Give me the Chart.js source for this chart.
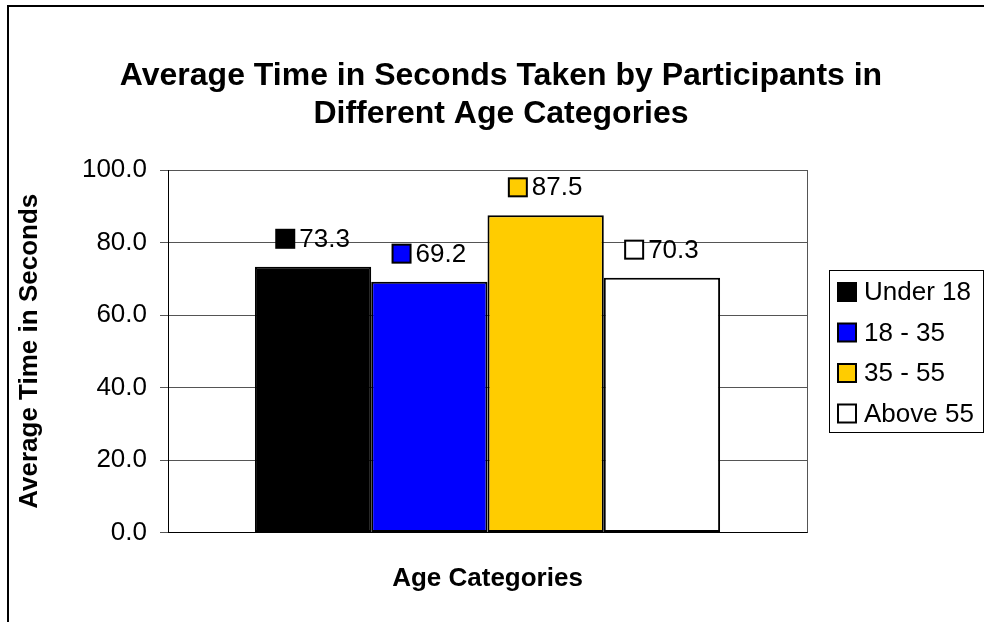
<!DOCTYPE html>
<html>
<head>
<meta charset="utf-8">
<script src="https://cdn.jsdelivr.net/npm/chart.js@4"></script>
<style>
  html, body { margin:0; padding:0; background:#fff; }
  #chart { display:block; }
</style>
</head>
<body>
<canvas id="chart" width="984" height="622"></canvas>
<script>
Chart.defaults.color = "#000";
Chart.defaults.font.family = "'Liberation Sans', Arial, sans-serif";

const titleLines = ["Average Time in Seconds Taken by Participants in", "Different Age Categories"];
const categories = [""];
const seriesNames = ["Under 18", "18 - 35", "35 - 55", "Above 55"];
const seriesValues = [73.3, 69.2, 87.5, 70.3];
const seriesColors = ["#000000", "#0000ff", "#ffcc00", "#ffffff"];
const yTicks = [0, 20, 40, 60, 80, 100];

// white page, frame on left/top, title, plot border on the right
const framePlugin = {
  id: 'frame',
  beforeDraw(chart){
    const ctx = chart.ctx;
    ctx.save();
    ctx.fillStyle = '#fff';
    ctx.fillRect(0, 0, chart.width, chart.height);
    ctx.strokeStyle = '#000';
    ctx.lineWidth = 2;
    ctx.beginPath();
    ctx.moveTo(8, chart.height);
    ctx.lineTo(8, 6);
    ctx.lineTo(chart.width, 6);
    ctx.stroke();
    // title is centred on the whole page, not the plot
    ctx.fillStyle = '#000';
    ctx.font = "bold 32px 'Liberation Sans', Arial, sans-serif";
    ctx.textAlign = 'center';
    ctx.textBaseline = 'middle';
    titleLines.forEach((t, i) => ctx.fillText(t, 501, 76 + i * 38));
    ctx.restore();
  },
  beforeDatasetsDraw(chart){
    const {ctx, chartArea:a} = chart;
    ctx.save();
    ctx.strokeStyle = '#555';
    ctx.lineWidth = 1;
    ctx.beginPath();
    ctx.moveTo(Math.round(a.right) + 0.5, a.top);
    ctx.lineTo(Math.round(a.right) + 0.5, a.bottom);
    ctx.stroke();
    ctx.restore();
  }
};

// excel style data labels: legend key + value above each bar
const labelPlugin = {
  id: 'valueLabels',
  afterDatasetsDraw(chart){
    const ctx = chart.ctx;
    ctx.save();
    ctx.font = "26px 'Liberation Sans', Arial, sans-serif";
    ctx.textBaseline = 'middle';
    ctx.textAlign = 'left';
    chart.data.datasets.forEach((ds, i) => {
      const bar = chart.getDatasetMeta(i).data[0];
      const txt = ds.data[0].toFixed(1);
      const tw = ctx.measureText(txt).width;
      const total = 18 + 5 + tw;
      const x0 = bar.x - total / 2;
      const cy = bar.y - 28;
      ctx.fillStyle = ds.backgroundColor;
      ctx.fillRect(x0, cy - 9, 18, 18);
      ctx.strokeStyle = '#000';
      ctx.lineWidth = 2;
      ctx.strokeRect(x0, cy - 9, 18, 18);
      ctx.fillStyle = '#000';
      ctx.fillText(txt, x0 + 23, cy + 1);
    });
    ctx.restore();
  }
};

// boxed legend on the right
const legendPlugin = {
  id: 'boxLegend',
  afterDraw(chart){
    const ctx = chart.ctx;
    const left = 829.5, top = 270.5, right = 983.5, bottom = 432.5;
    ctx.save();
    ctx.fillStyle = '#fff';
    ctx.fillRect(left, top, right - left, bottom - top);
    ctx.strokeStyle = '#000';
    ctx.lineWidth = 1;
    ctx.strokeRect(left, top, right - left, bottom - top);
    ctx.font = "26px 'Liberation Sans', Arial, sans-serif";
    ctx.textBaseline = 'middle';
    ctx.textAlign = 'left';
    chart.data.datasets.forEach((ds, i) => {
      const cy = 292 + i * 40.5;
      ctx.fillStyle = ds.backgroundColor;
      ctx.fillRect(838, cy - 9, 18, 18);
      ctx.strokeStyle = '#000';
      ctx.lineWidth = 2;
      ctx.strokeRect(838, cy - 9, 18, 18);
      ctx.fillStyle = '#000';
      ctx.fillText(ds.label, 864, cy + 1);
    });
    ctx.restore();
  }
};

const datasets = seriesNames.map((name, i) => ({
  label: name,
  data: [seriesValues[i]],
  backgroundColor: seriesColors[i],
  borderColor: '#000',
  borderWidth: 2,
  borderSkipped: false,
  categoryPercentage: 0.728,
  barPercentage: 1.0
}));

new Chart(document.getElementById('chart'), {
  type: 'bar',
  data: { labels: categories, datasets },
  plugins: [framePlugin, labelPlugin, legendPlugin],
  options: {
    responsive: false,
    animation: false,
    devicePixelRatio: 1,
    layout: { padding: { top: 170, left: 0, right: 177, bottom: 0 } },
    plugins: {
      legend: { display: false },
      tooltip: { enabled: false },
      title: { display: false }
    },
    scales: {
      x: {
        ticks: { display: false },
        grid: { display: false },
        border: { display: true, color: '#000', width: 1 },
        title: {
          display: true,
          text: 'Age Categories',
          font: { size: 26, weight: 'bold' },
          padding: { top: 0, bottom: 28 }
        },
        afterFit: s => { s.height = 89.5; }
      },
      y: {
        min: 0,
        max: 100,
        afterBuildTicks: s => { s.ticks = yTicks.map(v => ({ value: v })); },
        ticks: {
          font: { size: 26 },
          padding: 13,
          callback: v => Number(v).toFixed(1)
        },
        grid: { color: '#555', lineWidth: 1, tickLength: 8 },
        border: { display: true, color: '#000', width: 1 },
        title: {
          display: true,
          text: 'Average Time in Seconds',
          font: { size: 26, weight: 'bold' },
          padding: { top: 14, bottom: 0 }
        },
        afterFit: s => { s.width = 168; }
      }
    }
  }
});
</script>
</body>
</html>
